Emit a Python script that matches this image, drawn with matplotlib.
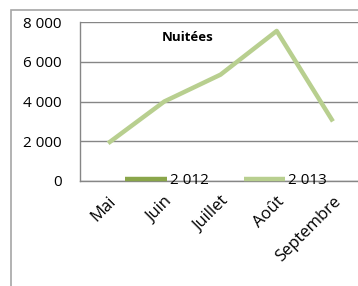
import numpy as np
import matplotlib.pyplot as plt
from matplotlib.patches import Rectangle

mois = ["Mai", "Juin", "Juillet", "Août", "Septembre"]
nuitees_2012 = [np.nan, np.nan, np.nan, np.nan, np.nan]
nuitees_2013 = [1900, 4000, 5350, 7550, 3000]
y_ticks = [0, 2000, 4000, 6000, 8000]
y_labels = ["0", "2 000", "4 000", "6 000", "8 000"]

plt.rcParams['font.family'] = ['Open Sans', 'DejaVu Sans']

fig = plt.figure(figsize=(3.58, 2.86), dpi=100)
fig.patches.append(Rectangle((11 / 358, -0.1), 1.2, 1 - 10 / 286 + 0.1,
                             transform=fig.transFigure, fill=False,
                             edgecolor="#a6a6a6", linewidth=1.2))

ax = fig.add_axes([80 / 358, 1 - 181 / 286, 281 / 358, 159 / 286])
x = np.arange(len(mois)) + 0.5
ax.plot(x, nuitees_2012, color="#8aa64a", linewidth=3.2, label="2 012",
        solid_capstyle="butt")
ax.plot(x, nuitees_2013, color="#b8cf8f", linewidth=3.2, label="2 013",
        solid_capstyle="butt")

ax.set_xlim(0, len(mois))
ax.set_ylim(0, 8000)
ax.set_yticks(y_ticks)
ax.set_yticklabels(y_labels, fontsize=11)
ax.set_xticks(x)
ax.set_xticklabels(mois, fontsize=12, rotation=45, ha="right",
                   rotation_mode="anchor")
ax.tick_params(axis="y", length=0, pad=13)
ax.tick_params(axis="x", length=0, pad=9)
ax.grid(axis="y", color="#868686", linewidth=1)
ax.set_axisbelow(True)
for s in ["top", "right"]:
    ax.spines[s].set_visible(False)
for s in ["left", "bottom"]:
    ax.spines[s].set_color("#868686")
    ax.spines[s].set_linewidth(1)

ax.text(0.384, 0.9, "Nuitées", transform=ax.transAxes, ha="center",
        va="center", fontsize=9.5, fontweight="bold")

ax.legend(loc="center", bbox_to_anchor=(226 / 358, 1 - 181 / 286),
          bbox_transform=fig.transFigure, ncol=2, frameon=False,
          fontsize=11, handlelength=2.7, handletextpad=0.2,
          columnspacing=2.3, borderpad=0)

fig.savefig("out.png", dpi=100)
